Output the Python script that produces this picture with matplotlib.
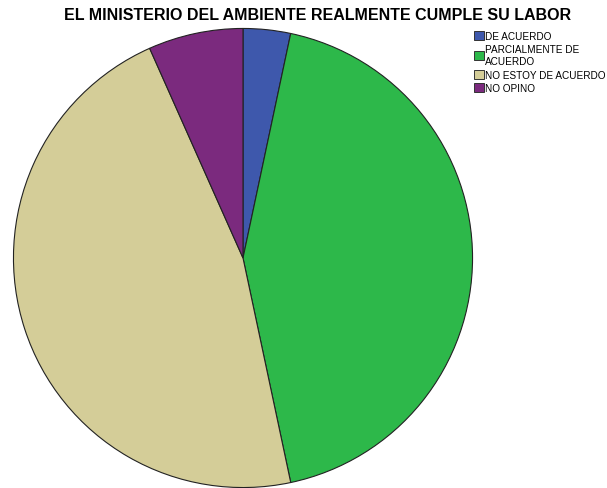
import matplotlib.pyplot as plt

plt.rcParams['font.family'] = ['Liberation Sans', 'DejaVu Sans']

labels = ['DE ACUERDO', 'PARCIALMENTE DE\nACUERDO', 'NO ESTOY DE ACUERDO', 'NO OPINO']
counts = [1, 13, 14, 2]
colors = ['#3E58AC', '#2DB84A', '#D4CD98', '#7B2A7E']

fig = plt.figure(figsize=(6.07, 4.89), dpi=100)
ax = fig.add_axes([13/607, 0/489, 460/607, 460/489])
wedges, _ = ax.pie(counts, colors=colors, startangle=90, counterclock=False,
                   radius=1, wedgeprops=dict(edgecolor='#222222', linewidth=0.8))
ax.set_xlim(-1.002, 1.002)
ax.set_ylim(-1.002, 1.002)
ax.set_aspect('equal')

fig.text(318/607, 1 - 16/489, 'EL MINISTERIO DEL AMBIENTE REALMENTE CUMPLE SU LABOR',
         ha='center', va='center', fontsize=11.5, fontweight='bold')

leg = fig.legend(wedges, labels, loc='upper left', bbox_to_anchor=(474/607, 1 - 32/489),
                 frameon=False, fontsize=7.2, handlelength=0.95, handleheight=1.0,
                 handletextpad=0.15, labelspacing=0.35, borderpad=0, borderaxespad=0)
for h in leg.legend_handles:
    h.set_edgecolor('#333333')
    h.set_linewidth(0.7)

fig.savefig('out.png', dpi=100)
